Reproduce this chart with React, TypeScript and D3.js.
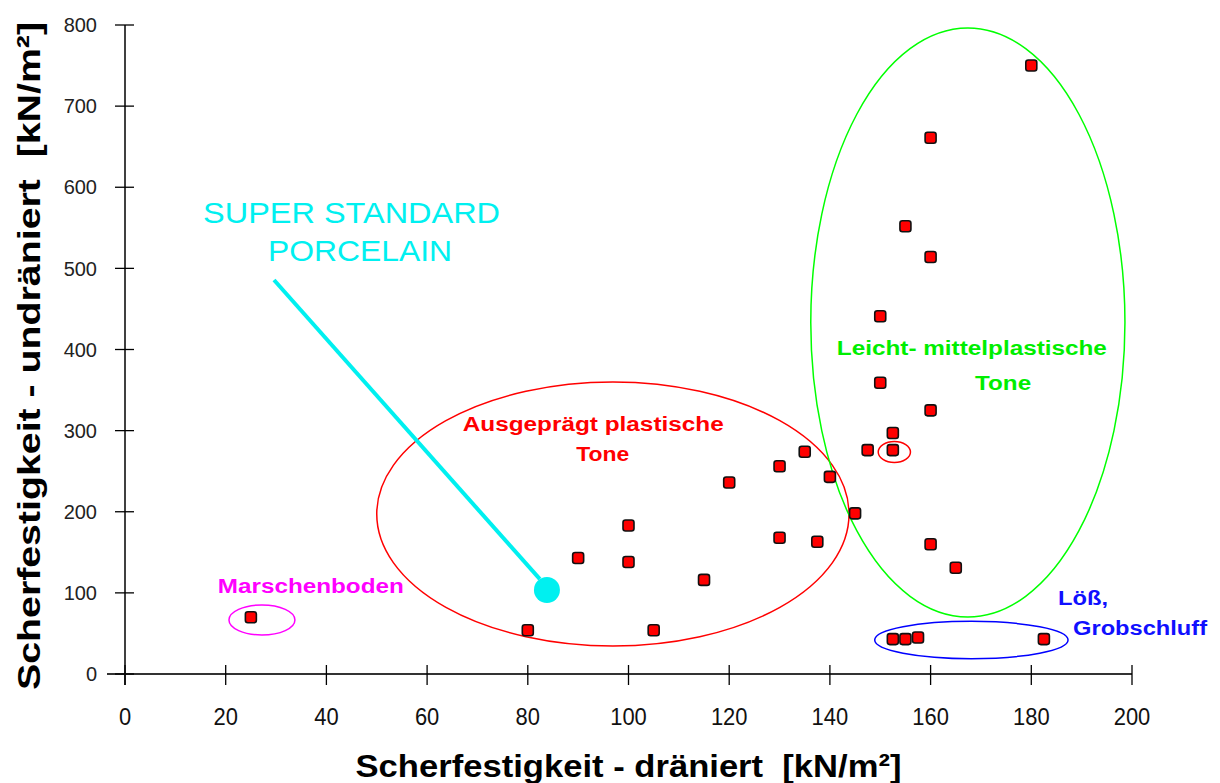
import React from "react";
import * as d3 from "d3";

// ---- data (kN/m²) ----
const drainedX: number[] = [25, 80, 90, 100, 100, 105, 115, 120, 130, 130, 135, 137.5, 140, 145, 147.5, 150, 150, 152.5, 152.5, 155, 160, 160, 160, 160, 165, 180, 152.5, 155, 157.5, 182.5];
const undrainedY: number[] = [70, 54, 143, 183, 138, 54, 116, 236, 256, 168, 274, 163, 243, 198, 276, 441, 359, 297, 276, 552, 661, 514, 325, 160, 131, 750, 43, 43, 45, 43];

const xTicks: number[] = [0, 20, 40, 60, 80, 100, 120, 140, 160, 180, 200];
const yTicks: number[] = [0, 100, 200, 300, 400, 500, 600, 700, 800];

// group ellipses: center x, center y, radius x, radius y (data units)
const ellipseNames: string[] = ["plastisch", "leicht", "loess", "marsch", "single"];
const ellipseCX: number[] = [96.9, 167.4, 168.1, 27.2, 152.8];
const ellipseCY: number[] = [197.2, 433.3, 41.9, 66.6, 273.7];
const ellipseRX: number[] = [46.9, 31.2, 19.2, 6.55, 3.2];
const ellipseRY: number[] = [162.7, 363, 23, 18.5, 13];
const ellipseColors: string[] = ["#ff0000", "#00ff00", "#0000ff", "#ff00ff", "#ff0000"];

// porcelain reference point
const porcelainX = 83.8;
const porcelainY = 103.5;
const pointerFrom: [number, number] = [29.6, 485.7];
const pointerTo: [number, number] = [82.4, 116.9];

// annotation labels (data-unit anchors)
const labelTexts: string[] = ["SUPER STANDARD", "PORCELAIN", "Ausgeprägt plastische", "Tone", "Leicht- mittelplastische", "Tone", "Marschenboden", "Löß,", "Grobschluff"];
const labelX: number[] = [45.0, 46.7, 93.0, 94.9, 168.2, 174.4, 36.9, 185.3, 188.3];
const labelY: number[] = [556, 508.5, 299.5, 262.6, 393.2, 350.1, 99.8, 85, 48];
const labelColors: string[] = ["#00f0f0", "#00f0f0", "#ff0000", "#ff0000", "#00ee00", "#00ee00", "#ff00ff", "#1010ff", "#1010ff"];
const labelWidths: number[] = [297, 184, 261, 53, 270, 56, 186, 50, 134];
const labelBold: boolean[] = [false, false, true, true, true, true, true, true, true];
const labelSize: number[] = [30, 30, 20, 20, 20, 20, 20, 20, 20];
const labelAnchor: string[] = ["middle", "middle", "middle", "middle", "middle", "middle", "middle", "start", "start"];

const xTitle = "Scherfestigkeit - dräniert  [kN/m²]";
const yTitle = "Scherfestigkeit - undräniert  [kN/m²]";

export default function App() {
  const W = 1220;
  const H = 783;
  const x = d3.scaleLinear().domain([0, 200]).range([125, 1132]);
  const y = d3.scaleLinear().domain([0, 800]).range([674, 25]);
  const font = "'Liberation Sans', Arial, sans-serif";

  return (
    <svg width={W} height={H} style={{ position: "absolute", left: 0, top: 0, background: "#fff" }} fontFamily={font}>
      <rect width={W} height={H} fill="#fff" />
      {/* axes */}
      <line x1={x(0)} x2={x(0)} y1={y(800)} y2={y(0) + 11} stroke="#000" strokeWidth={1.5} />
      <line x1={x(0) - 18} x2={x(200)} y1={y(0)} y2={y(0)} stroke="#333" strokeWidth={2.2} />
      {yTicks.map((t) => (
        <g key={"yt" + t}>
          <line x1={x(0) - 10} x2={x(0) + 9} y1={y(t)} y2={y(t)} stroke="#000" strokeWidth={1.3} />
          <text x={x(0) - 28} y={y(t)} dy="0.36em" textAnchor="end" fontSize={20} fill="#222">
            {t}
          </text>
        </g>
      ))}
      {xTicks.map((t) => (
        <g key={"xt" + t}>
          <line x1={x(t)} x2={x(t)} y1={y(0) - 9} y2={y(0) + 11} stroke="#000" strokeWidth={1.3} />
          <text
            x={x(t)}
            y={y(0) + 51}
            textAnchor="middle"
            fontSize={24}
            fill="#111"
            textLength={String(t).length * 12.2}
            lengthAdjust="spacingAndGlyphs"
          >
            {t}
          </text>
        </g>
      ))}
      {/* axis titles */}
      <text
        x={(x(0) + x(200)) / 2}
        y={777}
        textAnchor="middle"
        fontSize={32}
        fontWeight="bold"
        fill="#000"
        textLength={546}
        lengthAdjust="spacingAndGlyphs"
        style={{ whiteSpace: "pre" }}
      >
        {xTitle}
      </text>
      <text
        transform={`translate(40, 356) rotate(-90)`}
        textAnchor="middle"
        fontSize={32}
        fontWeight="bold"
        fill="#000"
        textLength={668}
        lengthAdjust="spacingAndGlyphs"
        style={{ whiteSpace: "pre" }}
      >
        {yTitle}
      </text>

      {/* ellipses */}
      {ellipseNames.map((n, i) => (
        <ellipse
          key={n}
          cx={x(ellipseCX[i])}
          cy={y(ellipseCY[i])}
          rx={x(ellipseCX[i] + ellipseRX[i]) - x(ellipseCX[i])}
          ry={y(ellipseCY[i]) - y(ellipseCY[i] + ellipseRY[i])}
          fill="none"
          stroke={ellipseColors[i]}
          strokeWidth={1.5}
        />
      ))}

      {/* pointer to porcelain */}
      <line
        x1={x(pointerFrom[0])}
        y1={y(pointerFrom[1])}
        x2={x(pointerTo[0])}
        y2={y(pointerTo[1])}
        stroke="#00f0f0"
        strokeWidth={4}
      />
      <circle cx={x(porcelainX)} cy={y(porcelainY)} r={13} fill="#00f0f0" />

      {/* data points */}
      {drainedX.map((v, i) => (
        <rect
          key={"p" + i}
          x={x(v) - 5.5}
          y={y(undrainedY[i]) - 5.5}
          width={11}
          height={11}
          rx={2.5}
          fill="#ff0000"
          stroke="#111"
          strokeWidth={1.6}
        />
      ))}

      {/* labels */}
      {labelTexts.map((t, i) => (
        <text
          key={"l" + i}
          x={x(labelX[i])}
          y={y(labelY[i])}
          textAnchor={labelAnchor[i]}
          fontSize={labelSize[i]}
          fontWeight={labelBold[i] ? "bold" : "normal"}
          fill={labelColors[i]}
          textLength={labelWidths[i]}
          lengthAdjust="spacingAndGlyphs"
        >
          {t}
        </text>
      ))}
    </svg>
  );
}
